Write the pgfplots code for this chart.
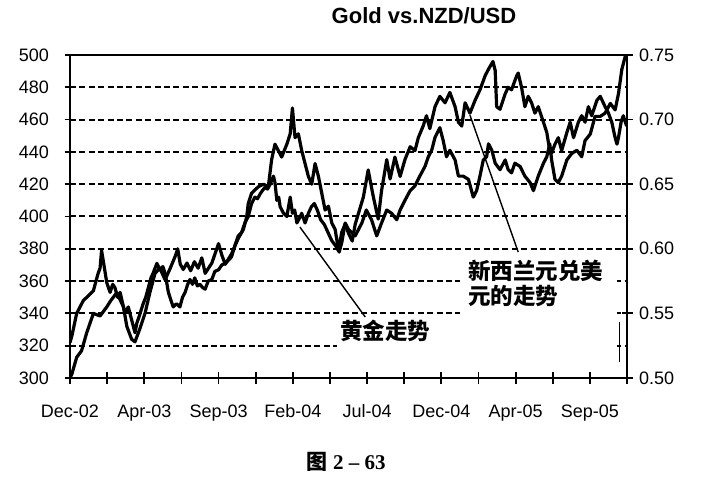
\documentclass[border=0pt]{standalone}
\usepackage{pgfplots}
\pgfplotsset{compat=1.18}
\usepackage{fontspec}
\setmainfont{Liberation Sans}
\newfontfamily\cjk{Noto Sans CJK SC}
\newfontfamily\serifb{Liberation Serif}

\pgfplotsset{
  common/.style={
    at={(70bp,105bp)}, anchor=south west, scale only axis,
    width=557bp, height=323bp,
    xmin=0, xmax=15,
    tick align=center, major tick length=11bp,
    tick style={black, line width=1.8bp},
    axis line style={black, line width=2.4bp},
    ticklabel style={font=\fontsize{18bp}{20bp}\selectfont},
    /pgf/number format/assume math mode=true,
  },
  serie/.style={black, line width=3.2bp, line join=round, no markers},
}

\begin{document}
\begin{tikzpicture}
\useasboundingbox (0,0) rectangle (703bp,483bp);

\begin{axis}[common,
  ymin=300, ymax=500,
  xtick={0,...,15},
  xticklabels={Dec-02,,Apr-03,,Sep-03,,Feb-04,,Jul-04,,Dec-04,,Apr-05,,Sep-05,},
  xticklabel style={anchor=base, yshift=-34bp},
  xtick pos=lower,
  ytick={300,320,...,500},
  ytick pos=left,
  yticklabel style={anchor=east, xshift=-12bp},
  ymajorgrids,
  grid style={black, dash pattern=on 6bp off 3.4bp, line width=2bp},
]
% Gold
\addplot[serie] coordinates {
(0.00,322) (0.05,326) (0.18,340) (0.27,344) (0.36,348) (0.50,351) (0.63,354) (0.70,360)
(0.76,365) (0.81,368) (0.85,379) (0.90,372) (0.99,359) (1.08,353) (1.15,358) (1.21,356)
(1.28,350) (1.35,353) (1.42,346) (1.48,340) (1.57,344) (1.66,336) (1.75,328) (1.80,334)
(1.86,338) (1.97,346) (2.04,350) (2.11,356) (2.18,362) (2.24,365) (2.34,371) (2.42,367)
(2.50,369) (2.56,365) (2.65,353) (2.72,348) (2.78,344) (2.87,346) (2.96,344) (3.03,350)
(3.10,353) (3.17,358) (3.23,361) (3.30,358) (3.36,362) (3.43,357) (3.50,358) (3.57,356)
(3.64,355) (3.72,360) (3.82,361) (3.90,366) (4.00,367) (4.09,370) (4.18,371) (4.27,373)
(4.35,375) (4.44,382) (4.53,388) (4.62,390) (4.71,396) (4.80,400) (4.89,408) (4.98,412)
(5.05,411) (5.12,414) (5.18,416) (5.25,418) (5.32,417) (5.39,420) (5.48,425) (5.52,421)
(5.57,410) (5.62,412) (5.66,406) (5.75,402) (5.84,400) (5.93,412) (5.99,402) (6.05,404)
(6.11,396) (6.18,399) (6.24,402) (6.33,396) (6.42,402) (6.50,406) (6.58,408) (6.66,404)
(6.75,398) (6.85,395) (6.95,390) (7.05,385) (7.15,382) (7.25,378) (7.32,384) (7.41,396)
(7.50,392) (7.59,390) (7.68,388) (7.77,392) (7.86,396) (7.98,404) (8.12,398) (8.26,388)
(8.39,396) (8.53,404) (8.66,402) (8.80,398) (8.89,404) (9.02,410) (9.16,416) (9.29,419)
(9.42,425) (9.56,431) (9.65,437) (9.74,441) (9.83,449) (9.96,455) (10.05,447) (10.14,437)
(10.23,441) (10.37,435) (10.46,425) (10.59,425) (10.73,423) (10.86,412) (10.95,416) (11.04,425)
(11.13,435) (11.22,437) (11.27,445) (11.36,441) (11.45,433) (11.58,429) (11.72,435) (11.80,429)
(11.89,427) (11.98,433) (12.12,431) (12.25,425) (12.39,421) (12.48,416) (12.61,425) (12.75,433)
(12.84,437) (12.92,445) (12.97,435) (13.06,423) (13.15,421) (13.24,425) (13.38,435) (13.51,439)
(13.65,441) (13.78,437) (13.87,447) (14.01,451) (14.14,462) (14.28,462) (14.41,464) (14.55,470)
(14.68,466) (14.77,476) (14.86,491) (14.95,499) (15.00,500)
};

% white boxes behind the labels
\fill[white] (axis cs:7.19,316.1) rectangle (axis cs:14.73,337.2);
\fill[white] (axis cs:10.50,337.2) rectangle (axis cs:14.73,376.2);
% pointer lines
\draw[black, line width=1.4bp] (axis cs:6.19,393.5) -- (axis cs:7.95,337.8);
\draw[black, line width=1.4bp] (axis cs:10.77,462.8) -- (axis cs:12.07,378);
\draw[black, line width=1.2bp] (axis cs:14.79,334.7) -- (axis cs:14.79,309.9);
% labels
\node[anchor=west, inner sep=0pt, font=\cjk\bfseries\fontsize{22.5bp}{24bp}\selectfont]
  at (axis cs:7.27,329.1) {黄金走势};
\node[anchor=west, inner sep=0pt, font=\cjk\bfseries\fontsize{22.5bp}{24bp}\selectfont]
  at (axis cs:10.72,366.3) {新西兰元兑美};
\node[anchor=west, inner sep=0pt, font=\cjk\bfseries\fontsize{22.5bp}{24bp}\selectfont]
  at (axis cs:10.72,350.8) {元的走势};
\end{axis}

\begin{axis}[common,
  ymin=0.5, ymax=0.75,
  axis x line=none,
  axis y line*=right,
  ytick={0.50,0.55,0.60,0.65,0.70,0.75},
  yticklabel style={xshift=3bp, /pgf/number format/.cd, fixed, fixed zerofill, precision=2},
]
% NZD/USD
\addplot[serie] coordinates {
(0.00,0.500) (0.05,0.503) (0.18,0.516) (0.31,0.521) (0.45,0.535) (0.63,0.550) (0.81,0.548) (0.99,0.555)
(1.10,0.560) (1.26,0.566) (1.44,0.555) (1.53,0.540) (1.66,0.530) (1.75,0.528) (1.88,0.538) (2.02,0.550)
(2.15,0.566) (2.29,0.581) (2.42,0.585) (2.56,0.576) (2.70,0.585) (2.83,0.594) (2.90,0.600) (2.97,0.588)
(3.05,0.584) (3.15,0.589) (3.25,0.583) (3.35,0.590) (3.45,0.585) (3.55,0.593) (3.64,0.581) (3.82,0.589)
(4.00,0.604) (4.09,0.595) (4.18,0.588) (4.35,0.596) (4.53,0.608) (4.67,0.615) (4.76,0.625) (4.80,0.635)
(4.89,0.643) (5.07,0.648) (5.21,0.650) (5.34,0.648) (5.43,0.669) (5.52,0.681) (5.61,0.676) (5.70,0.671)
(5.84,0.681) (5.93,0.689) (5.99,0.709) (6.06,0.686) (6.15,0.689) (6.24,0.676) (6.33,0.666) (6.42,0.656)
(6.51,0.650) (6.60,0.666) (6.69,0.656) (6.78,0.643) (6.87,0.630) (6.96,0.633) (7.05,0.620) (7.14,0.615)
(7.23,0.599) (7.32,0.613) (7.41,0.619) (7.50,0.612) (7.60,0.606) (7.68,0.619) (7.90,0.640) (8.03,0.661)
(8.17,0.640) (8.30,0.623) (8.39,0.645) (8.53,0.669) (8.62,0.654) (8.75,0.671) (8.89,0.656) (9.02,0.669)
(9.16,0.679) (9.29,0.676) (9.38,0.686) (9.51,0.695) (9.60,0.703) (9.69,0.693) (9.83,0.710) (9.96,0.718)
(10.10,0.713) (10.23,0.721) (10.37,0.710) (10.46,0.698) (10.55,0.695) (10.64,0.713) (10.77,0.705) (10.91,0.715)
(11.04,0.723) (11.18,0.734) (11.27,0.739) (11.39,0.745) (11.45,0.738) (11.49,0.710) (11.58,0.708) (11.72,0.720)
(11.80,0.725) (11.89,0.723) (12.03,0.734) (12.07,0.736) (12.16,0.725) (12.25,0.710) (12.34,0.718) (12.43,0.713)
(12.52,0.705) (12.61,0.710) (12.75,0.698) (12.84,0.690) (12.92,0.676) (12.97,0.674) (13.06,0.681) (13.15,0.686)
(13.24,0.676) (13.38,0.690) (13.47,0.698) (13.56,0.686) (13.69,0.698) (13.78,0.703) (13.87,0.698) (13.96,0.710)
(14.05,0.703) (14.19,0.715) (14.28,0.718) (14.41,0.710) (14.50,0.705) (14.59,0.698) (14.68,0.686) (14.73,0.681)
(14.77,0.686) (14.84,0.698) (14.90,0.703) (14.99,0.695)
};
\end{axis}

\node[font=\bfseries\fontsize{22bp}{24bp}\selectfont] at (424bp,467bp) {Gold vs.NZD/USD};
\node[font=\fontsize{21bp}{23bp}\selectfont] at (346bp,21bp)
  {{\cjk\bfseries 图} {\serifb\bfseries 2 – 63}};
\end{tikzpicture}
\end{document}
